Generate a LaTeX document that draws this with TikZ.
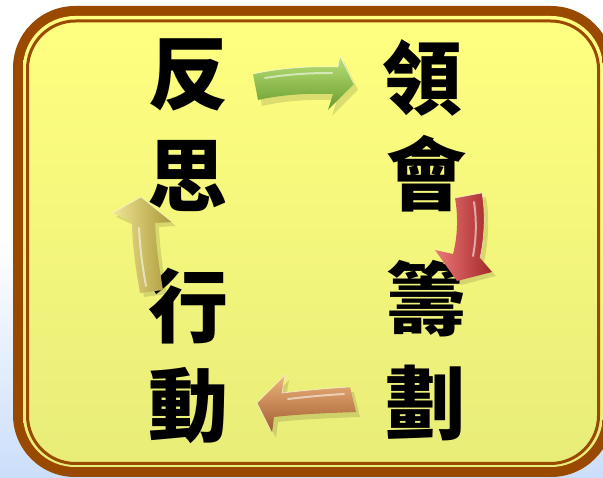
\documentclass[tikz,border=0pt]{standalone}
\usepackage{fontspec}
\newfontfamily\cjk{Noto Sans CJK TC}
\usetikzlibrary{shadings}
\definecolor{brownb}{RGB}{153,74,0}
\definecolor{bgblue}{RGB}{203,222,250}
\definecolor{fillTop}{RGB}{255,255,128}
\definecolor{fillBot}{RGB}{232,237,120}
\definecolor{gLight}{RGB}{185,225,120}
\definecolor{gMid}{RGB}{145,195,70}
\definecolor{gDark}{RGB}{105,155,45}
\definecolor{rLight}{RGB}{235,120,120}
\definecolor{rMid}{RGB}{205,62,62}
\definecolor{rDark}{RGB}{165,40,40}
\definecolor{oLight}{RGB}{238,180,125}
\definecolor{oMid}{RGB}{205,125,70}
\definecolor{oDark}{RGB}{160,90,45}
\definecolor{yLight}{RGB}{240,230,150}
\definecolor{yMid}{RGB}{212,195,90}
\definecolor{yDark}{RGB}{170,152,55}
\tikzset{
  word/.style={inner sep=0pt, font=\cjk\bfseries\fontsize{80}{80}\selectfont, text=black},
  shadowfill/.style={fill=black, fill opacity=0.12, draw=none},
  edge/.style={draw=white, draw opacity=0.6, line width=0.7pt},
  glint/.style={draw=white, draw opacity=0.55, line width=2pt, line cap=round}
}
\begin{document}
\begin{tikzpicture}[x=1pt,y=-1pt]
\useasboundingbox (0,0) rectangle (603,478);
% background
\shade[top color=white, bottom color=bgblue, middle color=white] (0,0) rectangle (603,478);
% frame
\fill[brownb, rounded corners=62pt] (13,6) rectangle (613,477);
\shade[top color=fillTop, bottom color=fillBot, rounded corners=52pt] (23,16) rectangle (603,467);
\draw[brownb, line width=3pt, rounded corners=48pt] (27.5,21) rectangle (598.5,463.5);
% words
\node[word] (fan) at (188,75) {反};
\node[word] (si)  at (187,176) {思};
\node[word] (xing) at (188,306) {行};
\node[word] (dong) at (188,406) {動};
\node[word] (ling) at (422,78) {領};
\node[word] (hui)  at (426,174) {會};
\node[word] (chou) at (426,299) {籌};
\node[word] (hua)  at (425,403) {劃};
% green arrow (right)
\fill[shadowfill] (257,80) .. controls (284,74) and (314,72) .. (342,73) -- (344,62) -- (358,90) -- (332,116) -- (337,100) .. controls (309,99) and (284,101) .. (262,106) -- cycle;
\shade[top color=gLight, middle color=gMid, bottom color=gDark] (253,74) .. controls (280,68) and (310,66) .. (338,67) -- (340,56) -- (354,84) -- (328,110) -- (333,94) .. controls (305,93) and (280,95) .. (258,100) -- cycle;
\draw[edge] (253,74) .. controls (280,68) and (310,66) .. (338,67) -- (340,56) -- (354,84);
\draw[glint] (265,78) .. controls (290,74) and (310,73) .. (332,73);
% red arrow (down)
\fill[shadowfill] (459,202) -- (486,197) .. controls (490,219) and (488,244) .. (484,262) -- (496,276) -- (461,285) -- (439,254) -- (457,258) .. controls (462,239) and (462,219) .. (459,202) -- cycle;
\shade[left color=rLight, middle color=rMid, right color=rDark] (455,198) -- (482,193) .. controls (486,215) and (484,240) .. (480,258) -- (492,272) -- (457,281) -- (435,250) -- (453,254) .. controls (458,235) and (458,215) .. (455,198) -- cycle;
\draw[edge] (455,198) -- (482,193) .. controls (486,215) and (484,240) .. (480,258);
\draw[glint] (474,202) .. controls (477,222) and (476,240) .. (473,256);
% orange arrow (left)
\fill[shadowfill] (354,392) .. controls (334,393) and (304,396) .. (286,398) -- (289,380) -- (261,408) -- (276,438) -- (278,422) .. controls (304,419) and (334,418) .. (360,417) -- cycle;
\shade[top color=oLight, middle color=oMid, bottom color=oDark] (350,387) .. controls (330,388) and (300,391) .. (282,393) -- (285,375) -- (257,403) -- (272,433) -- (274,417) .. controls (300,414) and (330,413) .. (356,412) -- cycle;
\draw[edge] (350,387) .. controls (330,388) and (300,391) .. (282,393) -- (285,375) -- (257,403) -- (272,433);
\draw[glint] (344,394) .. controls (325,395) and (305,397) .. (288,399);
% yellow arrow (up)
\fill[shadowfill] (144,297) .. controls (140,274) and (136,249) .. (136,226) -- (116,217) -- (145,201) -- (176,226) -- (159,227) .. controls (160,252) and (164,276) .. (167,294) -- cycle;
\shade[left color=yLight, middle color=yMid, right color=yDark] (140,293) .. controls (136,270) and (132,245) .. (132,222) -- (112,213) -- (141,197) -- (172,222) -- (155,223) .. controls (156,248) and (160,272) .. (163,290) -- cycle;
\draw[edge] (112,213) -- (141,197) -- (172,222);
\draw[glint] (139,228) .. controls (140,250) and (143,270) .. (146,286);
\end{tikzpicture}
\end{document}
